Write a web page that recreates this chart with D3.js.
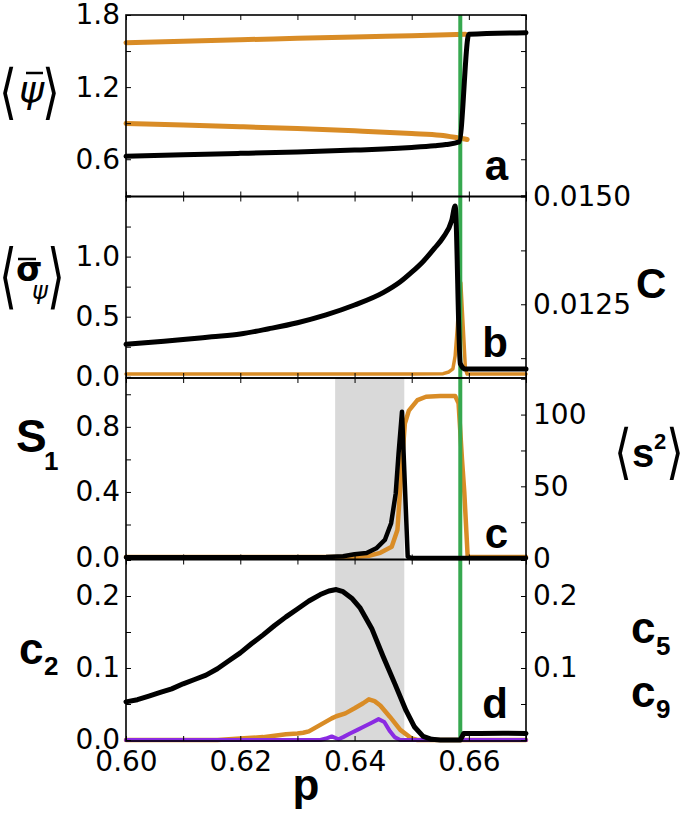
<!DOCTYPE html>
<html><head><meta charset="utf-8">
<script src="https://cdn.jsdelivr.net/npm/d3@7"></script>
<style>body{margin:0;background:#fff}svg{display:block}</style>
</head><body>
<svg id="chart" width="685" height="814"></svg>
<script>
// ---------------- data ----------------
const pDomain = [0.60, 0.67];
const pTicks = [0.60, 0.61, 0.62, 0.63, 0.64, 0.65, 0.66, 0.67];
const pTickLabels = [0.60, 0.62, 0.64, 0.66];
const pTransition = 0.6585;
const shadedBand = [0.6366, 0.6487];

// panel a : <psi>
const psiUpperOrange = [[0.600,1.570],[0.610,1.582],[0.620,1.594],[0.630,1.606],[0.640,1.617],[0.650,1.628],[0.6594,1.640]];
const psiLowerOrange = [[0.600,0.897],[0.610,0.884],[0.620,0.870],[0.630,0.855],[0.640,0.836],[0.650,0.814],[0.655,0.800],[0.6575,0.783],[0.6590,0.771],[0.6597,0.764]];
const psiBlack = [[0.600,0.625],[0.610,0.637],[0.620,0.649],[0.630,0.661],[0.640,0.676],[0.645,0.685],[0.650,0.698],[0.654,0.712],[0.656,0.722],[0.6583,0.744],[0.6600,1.640],[0.670,1.653]];
const psiTicks = [0.3,0.6,0.9,1.2,1.5,1.8];
const psiTickLabels = [0.6,1.2,1.8];

// panel b : <sigma_psi> (left) and C (right)
const sigmaBlack = [[0.600,0.27],[0.605,0.29],[0.610,0.31],[0.615,0.333],[0.620,0.356],[0.625,0.40],[0.630,0.45],[0.635,0.515],[0.640,0.597],[0.645,0.70],[0.648,0.79],[0.650,0.87],[0.652,0.96],[0.654,1.07],[0.6555,1.16],[0.657,1.30],[0.6576,1.42],[0.6585,0.11],[0.6594,0.064],[0.670,0.064]];
const cOrange = [[0.600,0.01088],[0.650,0.01088],[0.6555,0.01089],[0.6565,0.01093],[0.6572,0.0110],[0.6576,0.0113],[0.6580,0.0120],[0.6583,0.0127],[0.6586,0.0130],[0.6590,0.0120],[0.6594,0.0110],[0.6597,0.01088],[0.670,0.01088]];
const sigmaTicks = [0,0.25,0.5,0.75,1.0,1.25,1.5];
const sigmaTickLabels = [0,0.5,1.0];
const cTicks = [0.01125,0.0125,0.01375,0.015];
const cTickLabels = [0.0125,0.015];

// panel c : S1 (left) and <s^2> (right)
const s1Orange = [[0.600,0],[0.640,0],[0.6425,0.008],[0.6445,0.026],[0.6465,0.063],[0.6475,0.166],[0.6482,0.534],[0.6488,0.82],[0.6495,0.90],[0.651,0.964],[0.6525,0.985],[0.655,0.99],[0.6576,0.99],[0.6582,0.944],[0.6588,0.60],[0.6592,0.40],[0.6598,0],[0.670,0]];
const s2Black = [[0.600,0.5],[0.630,0.6],[0.635,0.8],[0.638,1.3],[0.640,2.7],[0.6421,3.5],[0.6438,6.8],[0.6453,12.6],[0.6464,24.3],[0.6472,45],[0.6477,73],[0.6483,102],[0.6487,61],[0.6493,1],[0.650,0],[0.670,0]];
const s1Ticks = [0,0.2,0.4,0.6,0.8,1.0];
const s1TickLabels = [0,0.4,0.8];
const s2Ticks = [0,25,50,75,100,125];
const s2TickLabels = [0,50,100];

// panel d : c2 (left), c5 and c9 (right)
const c2Black = [[0.600,0.053],[0.602,0.056],[0.604,0.061],[0.606,0.066],[0.608,0.071],[0.610,0.078],[0.612,0.084],[0.614,0.090],[0.616,0.099],[0.618,0.110],[0.620,0.121],[0.622,0.134],[0.624,0.146],[0.626,0.159],[0.628,0.171],[0.630,0.182],[0.632,0.193],[0.634,0.202],[0.6355,0.207],[0.6368,0.209],[0.638,0.206],[0.6395,0.197],[0.641,0.183],[0.643,0.155],[0.645,0.116],[0.647,0.079],[0.649,0.041],[0.6505,0.018],[0.652,0.005],[0.6535,0.001],[0.655,0],[0.6585,0],[0.6591,0.009],[0.662,0.009],[0.666,0.0095],[0.670,0.009]];
const c5Orange = [[0.600,0],[0.616,0],[0.618,0.001],[0.622,0.003],[0.624,0.004],[0.626,0.006],[0.628,0.008],[0.630,0.009],[0.631,0.010],[0.632,0.012],[0.634,0.021],[0.636,0.030],[0.6368,0.033],[0.6384,0.037],[0.640,0.044],[0.6415,0.051],[0.6425,0.0565],[0.6435,0.054],[0.6445,0.048],[0.6462,0.032],[0.648,0.014],[0.650,0.002],[0.651,0],[0.670,0]];
const c9Purple = [[0.600,0],[0.634,0],[0.635,0.002],[0.636,0.005],[0.6372,0.001],[0.638,0.004],[0.6392,0.009],[0.6405,0.014],[0.6415,0.018],[0.643,0.024],[0.6442,0.029],[0.6452,0.025],[0.6462,0.012],[0.647,0.004],[0.648,0],[0.670,0]];
const cnTicks = [0,0.05,0.1,0.15,0.2,0.25];
const c2TickLabels = [0,0.1,0.2];
const cnRightTickLabels = [0.1,0.2];

// ---------------- drawing ----------------
const ORANGE = "#d98c26", GREEN = "#36a84f", PURPLE = "#8a2be2", GRAY = "#d9d9d9";
const TICKFONT = "DejaVu Sans", BOLDFONT = "Liberation Sans";
const svg = d3.select("#chart");
const L = 126, R = 526;
const tops = [15, 196.5, 378, 559.5], H = 181.5;
const x = d3.scaleLinear().domain(pDomain).range([L, R]);

const panels = [
  {left:[0.29,1.8], leftTicks:psiTicks, leftLabels:psiTickLabels, leftFmt:d3.format(".1f"), right:null, letter:"a", letterY:180},
  {left:[-0.01,1.5], leftTicks:sigmaTicks, leftLabels:sigmaTickLabels, leftFmt:d3.format(".1f"), right:[0.01079,0.015], rightTicks:cTicks, rightLabels:cTickLabels, rightFmt:d3.format(".4f"), letter:"b", letterY:357},
  {left:[-0.015,1.1], leftTicks:s1Ticks, leftLabels:s1TickLabels, leftFmt:d3.format(".1f"), right:[-1,125.5], rightTicks:s2Ticks, rightLabels:s2TickLabels, rightFmt:d3.format("d"), letter:"c", letterY:548},
  {left:[-0.0014,0.2507], leftTicks:cnTicks, leftLabels:c2TickLabels, leftFmt:d3.format(".1f"), right:[-0.0014,0.2507], rightTicks:cnTicks, rightLabels:cnRightTickLabels, rightFmt:d3.format(".1f"), letter:"d", letterY:718}
];
panels.forEach((p,i) => {
  p.top = tops[i]; p.bottom = tops[i] + H;
  p.yL = d3.scaleLinear().domain(p.left).range([p.bottom, p.top]);
  if (p.right) p.yR = d3.scaleLinear().domain(p.right).range([p.bottom, p.top]);
});

// shaded band (panels c and d)
svg.append("rect").attr("x", x(shadedBand[0])).attr("width", x(shadedBand[1]) - x(shadedBand[0]))
  .attr("y", panels[2].top).attr("height", panels[3].bottom - panels[2].top).attr("fill", GRAY);

function drawLine(data, xs, ys, color, w, smooth) {
  const gen = d3.line().x(d => xs(d[0])).y(d => ys(d[1]));
  if (smooth) gen.curve(d3.curveMonotoneX);
  svg.append("path").datum(data).attr("d", gen)
    .attr("fill", "none").attr("stroke", color).attr("stroke-width", w)
    .attr("stroke-linejoin", "round").attr("stroke-linecap", "round");
}
const [pa, pb, pc, pd] = panels;
// under-green lines
drawLine(psiUpperOrange, x, pa.yL, ORANGE, 5, true);
drawLine(psiLowerOrange, x, pa.yL, ORANGE, 5, true);
drawLine(cOrange, x, pb.yR, ORANGE, 3.5, false);
drawLine(s1Orange, x, pc.yL, ORANGE, 4.5, false);
drawLine(c5Orange, x, pd.yR, ORANGE, 4.5, false);
drawLine(c9Purple, x, pd.yR, PURPLE, 4, false);
// transition line
svg.append("line").attr("x1", x(pTransition)).attr("x2", x(pTransition))
  .attr("y1", pa.top).attr("y2", pd.bottom).attr("stroke", GREEN).attr("stroke-width", 4);
// black lines
drawLine(psiBlack, x, pa.yL, "#000", 5, true);
drawLine(sigmaBlack, x, pb.yL, "#000", 5, true);
drawLine(s2Black, x, pc.yR, "#000", 4.5, false);
drawLine(c2Black, x, pd.yL, "#000", 5, false);

// axes
function styleAxis(g) {
  g.select(".domain").remove();
  g.selectAll(".tick line").attr("stroke", "#000").attr("stroke-width", 1);
  g.selectAll(".tick text").attr("font-family", TICKFONT).attr("font-size", 28).attr("fill", "#000");
}
panels.forEach((p,i) => {
  const fmtL = d => p.leftLabels.some(v => Math.abs(v-d) < 1e-9) ? p.leftFmt(d) : "";
  svg.append("g").attr("transform", `translate(${L},0)`)
    .call(d3.axisLeft(p.yL).tickValues(p.leftTicks).tickSize(-5).tickPadding(6).tickFormat(fmtL)).call(styleAxis);
  if (p.right) {
    const fmtR = d => p.rightLabels.some(v => Math.abs(v-d) < 1e-9) ? p.rightFmt(d) : "";
    svg.append("g").attr("transform", `translate(${R},0)`)
      .call(d3.axisRight(p.yR).tickValues(p.rightTicks).tickSize(-5).tickPadding(7).tickFormat(fmtR)).call(styleAxis);
  } else {
    svg.append("g").attr("transform", `translate(${R},0)`)
      .call(d3.axisRight(p.yL).tickValues(p.leftTicks).tickSize(-5).tickFormat("")).call(styleAxis);
  }
  svg.append("g").attr("transform", `translate(0,${p.top})`)
    .call(d3.axisTop(x).tickValues(pTicks).tickSize(-5).tickFormat("")).call(styleAxis);
  const fmtX = i === 3 ? (d => pTickLabels.some(v => Math.abs(v-d) < 1e-9) ? d3.format(".2f")(d) : "") : "";
  svg.append("g").attr("transform", `translate(0,${p.bottom})`)
    .call(d3.axisBottom(x).tickValues(pTicks).tickSize(-5).tickPadding(10).tickFormat(fmtX)).call(styleAxis);
  svg.append("rect").attr("x", L).attr("y", p.top).attr("width", R-L).attr("height", H)
    .attr("fill", "none").attr("stroke", "#000").attr("stroke-width", 1.6);
  svg.append("text").attr("x", 508).attr("y", p.letterY).attr("text-anchor", "end")
    .attr("font-family", BOLDFONT).attr("font-weight", "bold").attr("font-size", 42).text(p.letter);
});

// axis titles
function txt(xp, yp, s, o = {}) {
  return svg.append("text").attr("x", xp).attr("y", yp)
    .attr("font-family", o.family || BOLDFONT).attr("font-weight", o.weight || "bold")
    .attr("font-style", o.style || "normal").attr("font-size", o.size || 42)
    .attr("text-anchor", o.anchor || "start").text(s);
}
function bracket(xp, yp, s, sy) {
  svg.append("text").attr("transform", `translate(${xp},${yp}) scale(1,${sy})`)
    .attr("font-family", TICKFONT).attr("font-size", 46).text(s);
}
function bar(x1, x2, y) {
  svg.append("line").attr("x1", x1).attr("x2", x2).attr("y1", y).attr("y2", y).attr("stroke", "#000").attr("stroke-width", 2.5);
}
// <psi-bar>
bracket(-1, 112, "⟨", 1.3);
txt(19, 102, "ψ", {family: TICKFONT, weight: "normal", style: "italic", size: 38});
bracket(42, 112, "⟩", 1.3);
bar(26, 43, 73);
// <sigma-bar_psi>
bracket(-1, 300, "⟨", 1.55);
txt(16, 281, "σ", {family: TICKFONT, weight: "bold", size: 34});
txt(32, 299, "ψ", {family: TICKFONT, weight: "normal", style: "italic", size: 24});
bracket(47, 300, "⟩", 1.55);
bar(18, 36, 259);
// S1
txt(16, 452, "S", {size: 46});
txt(44, 470, "1", {size: 26});
// c2
txt(19, 664, "c", {size: 44});
txt(44, 675, "2", {size: 26});
// right titles
txt(636, 298, "C", {size: 42});
bracket(614, 472, "⟨", 1.3);
txt(632, 467, "s", {size: 40});
txt(654, 449, "2", {size: 22});
bracket(666, 472, "⟩", 1.3);
txt(631, 643, "c", {size: 44});
txt(656, 655, "5", {size: 26});
txt(631, 707, "c", {size: 44});
txt(656, 718, "9", {size: 26});
// x title
txt(306, 800, "p", {size: 44, anchor: "middle"});
</script>
</body></html>
